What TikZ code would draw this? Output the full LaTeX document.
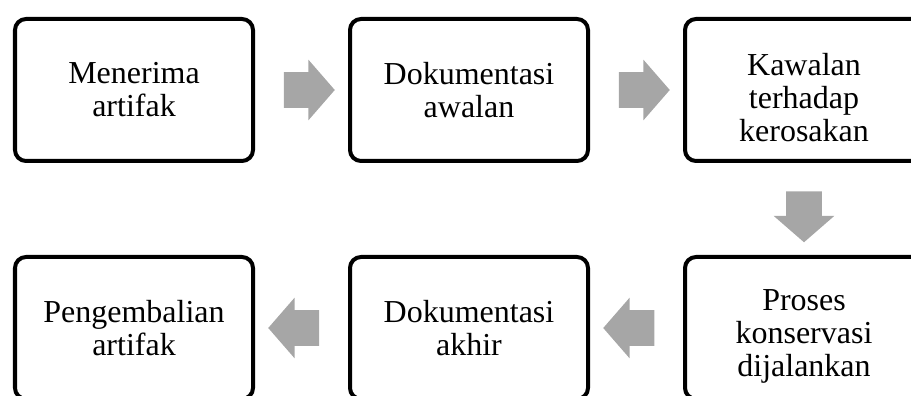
\documentclass[tikz,border=0pt]{standalone}
\usepackage{fontspec}
\setmainfont{Liberation Serif}
\usepackage{xcolor}
\usetikzlibrary{positioning,shapes.arrows,calc}
\definecolor{arrowgray}{HTML}{A6A6A6}
\tikzset{
    flow box/.style={
        draw=black,
        line width=0.08cm,
        rounded corners=0.22cm,
        fill=white,
        minimum width=4.76cm,
        minimum height=2.84cm,
        align=center,
        font=\fontsize{18.2}{18.8}\selectfont,
        inner sep=2pt
    },
    flow box low/.style={flow box, text height=2.06cm},
    flow arrow/.style={
        single arrow,
        fill=arrowgray,
        draw=none,
        inner sep=0pt,
        text height=0.35cm,
        text depth=0.35cm,
        minimum height=1.02cm,
        single arrow head extend=0.25cm,
        single arrow tip angle=98
    }
}

\begin{document}
\begin{tikzpicture}[
    node distance=1.84cm and 1.86cm,
]
\useasboundingbox (0,0) rectangle (18.22,-7.92);
\clip (0,0) rectangle (18.22,-7.92);

% top row
\node[flow box] (terima) at (2.68,-1.80) {Menerima\\artifak};
\node[flow box, right=of terima] (dokawal) {Dokumentasi\\awalan};
\node[flow box low, right=of dokawal] (kawalan) {Kawalan\\terhadap\\kerosakan};

% bottom row
\node[flow box low, below=of kawalan] (proses) {Proses\\konservasi\\dijalankan};
\node[flow box, left=of proses] (dokakhir) {Dokumentasi\\akhir};
\node[flow box, left=of dokakhir] (kembali) {Pengembalian\\artifak};

% block arrows
\node[flow arrow] (a1) at ($(terima.east)!0.5!(dokawal.west)$) {};
\node[flow arrow] (a2) at ($(dokawal.east)!0.5!(kawalan.west)$) {};
\node[flow arrow, rotate=-90] (a3) at ($(kawalan.south)!0.5!(proses.north)$) {};
\node[flow arrow, rotate=180] (a4) at ($(proses.west)!0.5!(dokakhir.east)$) {};
\node[flow arrow, rotate=180] (a5) at ($(dokakhir.west)!0.5!(kembali.east)$) {};
\end{tikzpicture}
\end{document}
